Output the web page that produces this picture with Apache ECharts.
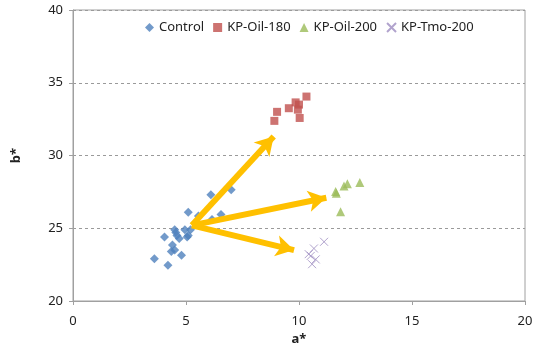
<!DOCTYPE html>
<html><head><meta charset="utf-8">
<script src="https://cdn.jsdelivr.net/npm/echarts@6/dist/echarts.min.js"></script>
<style>html,body{margin:0;padding:0;background:#fff}#c{width:540px;height:354px}</style>
</head><body><div id="c"></div>
<script>
var seriesNames = ['Control', 'KP-Oil-180', 'KP-Oil-200', 'KP-Tmo-200'];
var control = [[3.6,22.9],[4.2,22.45],[4.35,23.4],[4.5,23.5],[4.8,23.15],[4.4,23.85],[4.05,24.4],[4.6,24.5],[4.7,24.3],[5.1,24.5],[4.5,24.9],[4.95,24.9],[5.2,24.9],[5.1,26.1],[5.55,25.85],[6.1,27.3],[7.0,27.65],[6.55,25.95],[6.15,25.6],[4.55,24.7],[5.05,24.4]];
var kpOil180 = [[10.33,34.05],[9.85,33.65],[10.0,33.5],[9.55,33.25],[9.95,33.15],[9.03,33.0],[10.03,32.58],[8.91,32.38]];
var kpOil200 = [[12.69,28.14],[12.14,28.05],[11.99,27.91],[11.65,27.41],[11.62,27.52],[11.84,26.14]];
var kpTmo200 = [[11.11,24.07],[10.66,23.61],[10.43,23.22],[10.52,23.1],[10.74,22.86],[10.58,22.53]];
var arrowStart = [5.26, 25.2];
var arrowEnds = [[8.88,31.31],[11.21,27.1],[9.78,23.5]];
var xTicks = [0, 20, 5];
var yTicks = [20, 40, 5];

var chart = echarts.init(document.getElementById('c'));
var font = 'Noto Sans, DejaVu Sans, sans-serif';
var xPath = 'path://M0,0L10,10M10,0L0,10';
chart.setOption({
  animation: false,
  textStyle: {fontFamily: font},
  grid: {left: 73, right: 15, top: 10, bottom: 53, show: true, borderColor: '#a0a0a0', borderWidth: 1},
  legend: {
    top: 16, left: 140, itemGap: 9, itemWidth: 9, itemHeight: 9,
    textStyle: {fontSize: 13, color: '#222', fontFamily: font},
    data: [
      {name: seriesNames[0], icon: 'diamond'},
      {name: seriesNames[1], icon: 'rect'},
      {name: seriesNames[2], icon: 'triangle'},
      {name: seriesNames[3], icon: xPath}
    ]
  },
  xAxis: {
    type: 'value', min: xTicks[0], max: xTicks[1], interval: xTicks[2],
    name: 'a*', nameLocation: 'middle', nameGap: 31,
    nameTextStyle: {fontSize: 13, fontWeight: 'bold', color: '#222'},
    axisLine: {lineStyle: {color: '#a0a0a0'}},
    axisTick: {show: true, length: 4, lineStyle: {color: '#a0a0a0'}},
    axisLabel: {fontSize: 13, color: '#222', margin: 14},
    splitLine: {show: false}
  },
  yAxis: {
    type: 'value', min: yTicks[0], max: yTicks[1], interval: yTicks[2],
    name: 'b*', nameLocation: 'middle', nameGap: 50,
    nameTextStyle: {fontSize: 13, fontWeight: 'bold', color: '#222'},
    axisLine: {show: true, lineStyle: {color: '#a0a0a0'}},
    axisTick: {show: true, length: 4, lineStyle: {color: '#a0a0a0'}},
    axisLabel: {fontSize: 13, color: '#222', margin: 10},
    splitLine: {show: true, lineStyle: {color: '#9a9a9a', type: [3, 3]}}
  },
  series: [
    {name: seriesNames[0], type: 'scatter', symbol: 'diamond', symbolSize: 9, data: control, itemStyle: {color: '#4F81BD'}, z: 3},
    {name: seriesNames[1], type: 'scatter', symbol: 'rect', symbolSize: 8, data: kpOil180, itemStyle: {color: '#C0504D'}, z: 3},
    {name: seriesNames[2], type: 'scatter', symbol: 'triangle', symbolSize: 9, data: kpOil200, itemStyle: {color: '#9BBB59'}, z: 3},
    {name: seriesNames[3], type: 'scatter', symbol: xPath, symbolSize: 8, data: kpTmo200,
      itemStyle: {color: 'rgba(0,0,0,0)', borderColor: '#9d8cc0', borderWidth: 1}, z: 3,
      markLine: {
        silent: true, animation: false, z: 10,
        symbol: ['none', 'arrow'], symbolSize: [16, 18],
        label: {show: false},
        lineStyle: {color: '#FFC000', width: 6, type: 'solid', opacity: 1},
        data: arrowEnds.map(function (e) {
          return [{coord: arrowStart}, {coord: e}];
        })
      }
    }
  ]
});
</script></body></html>
